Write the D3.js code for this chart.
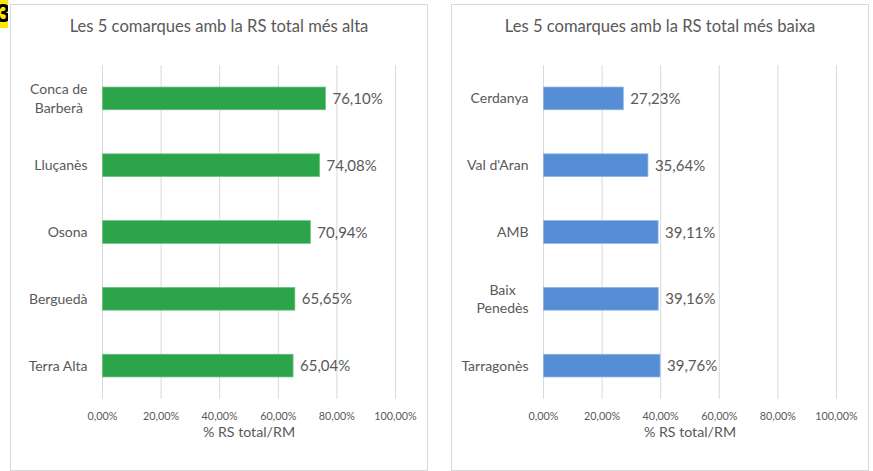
<!DOCTYPE html>
<html><head><meta charset="utf-8">
<script src="https://cdn.jsdelivr.net/npm/d3@7"></script>
<style>body{margin:0;background:#fff}svg{display:block}</style>
</head><body>
<svg id="c" width="873" height="471"></svg>
<script>
const titleHigh = "Les 5 comarques amb la RS total més alta";
const titleLow = "Les 5 comarques amb la RS total més baixa";
const catsHigh = ["Conca de\nBarberà", "Lluçanès", "Osona", "Berguedà", "Terra Alta"];
const valsHigh = [76.10, 74.08, 70.94, 65.65, 65.04];
const catsLow = ["Cerdanya", "Val d'Aran", "AMB", "Baix\nPenedès", "Tarragonès"];
const valsLow = [27.23, 35.64, 39.11, 39.16, 39.76];
const ticks = [0, 20, 40, 60, 80, 100];
const axisTitle = "% RS total/RM";

const svg = d3.select("#c");
const font = "Lato, 'Open Sans', sans-serif";
const fmt = v => d3.format(".2f")(v).replace(".", ",") + "%";

// corner label fragment
svg.append("defs").append("clipPath").attr("id","cl").append("rect").attr("x",0).attr("y",0).attr("width",8).attr("height",28);
const cg = svg.append("g").attr("clip-path","url(#cl)");
cg.append("rect").attr("x",0).attr("y",0).attr("width",8).attr("height",28).attr("fill","#ffe600");
cg.append("text").attr("x",-4).attr("y",22).attr("font-family","Arial, sans-serif").attr("font-weight","bold").attr("font-size",26).attr("fill","#000").text("3");

function panel(ox, title, cats, vals, color, stroke) {
  const g = svg.append("g");
  g.append("rect").attr("x", ox + 0.5).attr("y", 4.5).attr("width", 417).attr("height", 466)
    .attr("fill", "#fff").attr("stroke", "#d9d9d9");
  const x = d3.scaleLinear().domain([0, 100]).range([ox + 92.5, ox + 385.5]);
  const y = d3.scaleBand().domain(cats).range([65, 399]).paddingInner(0.66).paddingOuter(0.33);
  g.append("text").attr("x", ox + 209).attr("y", 32).attr("text-anchor", "middle")
    .attr("font-family", font).attr("font-size", 16.6).attr("fill", "#595959").text(title);
  // gridlines
  g.selectAll(".grid").data(ticks).join("line")
    .attr("x1", d => x(d)).attr("x2", d => x(d)).attr("y1", 65).attr("y2", 399)
    .attr("stroke", "#d9d9d9").attr("stroke-width", 1);
  // tick labels
  g.selectAll(".tl").data(ticks).join("text")
    .attr("x", d => x(d)).attr("y", 419.5).attr("text-anchor", "middle")
    .attr("font-family", font).attr("font-size", 10.8).attr("fill", "#595959")
    .text(d => fmt(d));
  g.append("text").attr("x", (x(0) + x(100)) / 2).attr("y", 437).attr("text-anchor", "middle")
    .attr("font-family", font).attr("font-size", 14.2).attr("fill", "#595959").text(axisTitle);
  // bars
  g.selectAll(".bar").data(vals).join("rect")
    .attr("x", x(0)).attr("y", (d, i) => y(cats[i]))
    .attr("width", d => x(d) - x(0)).attr("height", y.bandwidth())
    .attr("fill", color).attr("stroke", stroke).attr("stroke-width", 0.75);
  // value labels
  g.selectAll(".vl").data(vals).join("text")
    .attr("x", d => x(d) + 7).attr("y", (d, i) => y(cats[i]) + y.bandwidth() / 2 + 5.5)
    .attr("font-family", font).attr("font-size", 15).attr("fill", "#595959")
    .text(d => fmt(d));
  // category labels
  cats.forEach(c => {
    const lines = c.split("\n");
    const cy = y(c) + y.bandwidth() / 2;
    const t = g.append("text").attr("text-anchor", "middle")
      .attr("font-family", font).attr("font-size", 14).attr("fill", "#595959");
    const lh = 18.5;
    lines.forEach((l, i) => {
      t.append("tspan").attr("x", 0).attr("y", cy + 5 + (i - (lines.length - 1) / 2) * lh).text(l);
    });
    let w = 0;
    t.selectAll("tspan").each(function(){ w = Math.max(w, this.getComputedTextLength()); });
    t.selectAll("tspan").attr("x", x(0) - 15 - w / 2);
  });
}
panel(10, titleHigh, catsHigh, valsHigh, "#2ca44a", "#6cc07f");
panel(451, titleLow, catsLow, valsLow, "#558ed5", "#8ab3e6");
</script>
</body></html>
